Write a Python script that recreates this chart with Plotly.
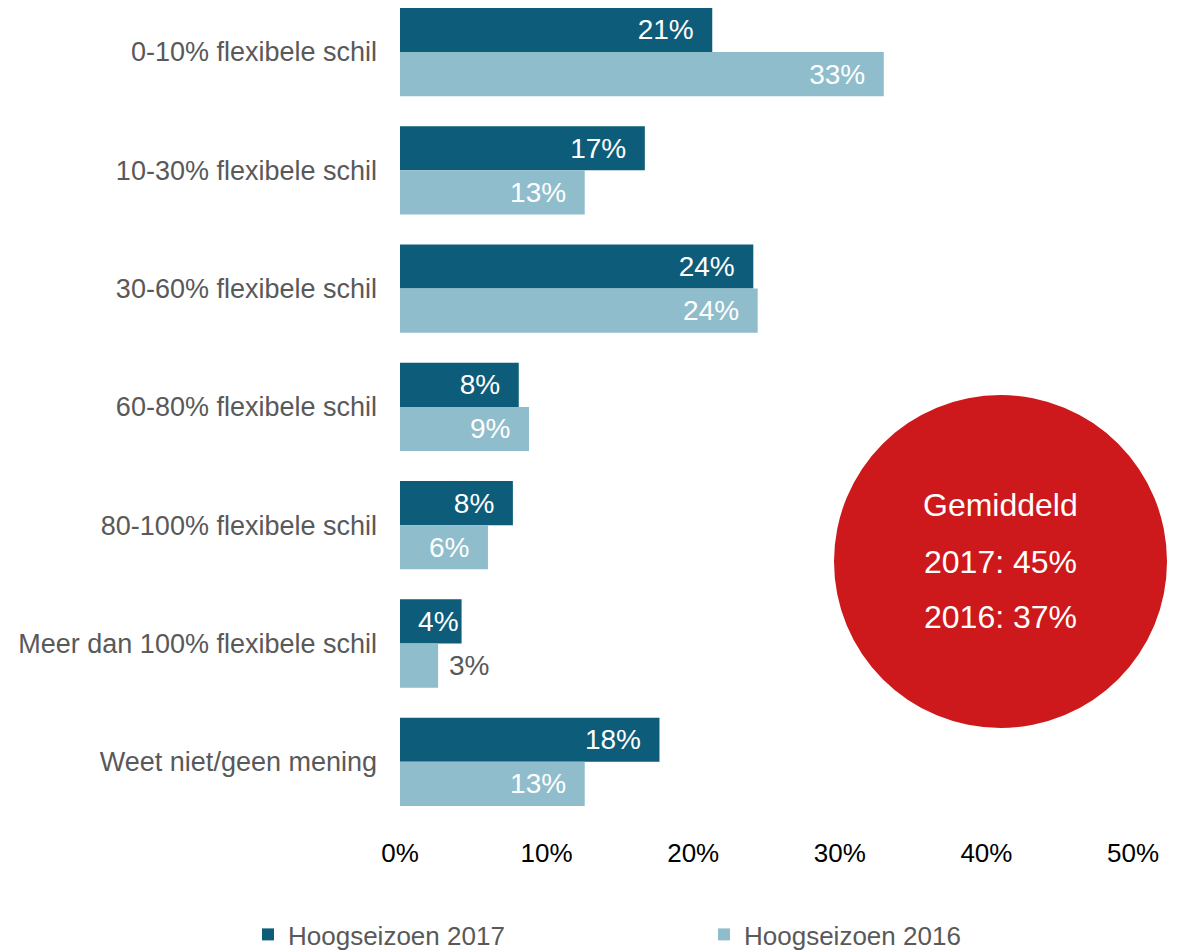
import plotly.graph_objects as go

categories = [
    "0-10% flexibele schil",
    "10-30% flexibele schil",
    "30-60% flexibele schil",
    "60-80% flexibele schil",
    "80-100% flexibele schil",
    "Meer dan 100% flexibele schil",
    "Weet niet/geen mening",
]
values_2017 = [21.3, 16.7, 24.1, 8.1, 7.7, 4.2, 17.7]
values_2016 = [33.0, 12.6, 24.4, 8.8, 6.0, 2.6, 12.6]
labels_2017 = ["21%", "17%", "24%", "8%", "8%", "4%", "18%"]
labels_2016 = ["33%", "13%", "24%", "9%", "6%", "3%", "13%"]
pos_2016 = ["inside", "inside", "inside", "inside", "inside", "outside", "inside"]
x_ticks = [0, 10, 20, 30, 40, 50]
x_ticktext = ["0%", "10%", "20%", "30%", "40%", "50%"]
avg_lines = ["Gemiddeld", "2017: 45%", "2016: 37%"]

DARK = "#0d5c79"
LIGHT = "#8fbdcb"
RED = "#cd191b"
GRAY = "#595959"
NB = "\u00a0"
FONT = "Liberation Sans, Arial, sans-serif"

OFF = 8  # page body offset
W, H = 1185, 950
SCR_L, SCR_R, SCR_T, SCR_B = 400, 1133, 0, 820
L = SCR_L - OFF
T = 0
PW = SCR_R - SCR_L
R = W - L - PW
PH = SCR_B - OFF - T
B = H - T - PH

def px_x(x):
    return (x - OFF - L) / PW

def px_y(y):
    return (T + PH - (y - OFF)) / PH

def label_text(lbl, val, pos):
    if pos == "outside":
        return NB + lbl
    return lbl + (NB * 2 if val >= 5 else "")

fig = go.Figure()
fig.add_trace(go.Bar(
    y=categories, x=values_2017, orientation="h", name="Hoogseizoen 2017",
    marker=dict(color=DARK, line=dict(width=0)),
    text=[label_text(l, v, "inside") for l, v in zip(labels_2017, values_2017)],
    textposition="inside", insidetextanchor="end",
    insidetextfont=dict(color="white", size=28, family=FONT),
    constraintext="none", hoverinfo="skip",
))
fig.add_trace(go.Bar(
    y=categories, x=values_2016, orientation="h", name="Hoogseizoen 2016",
    marker=dict(color=LIGHT, line=dict(width=0)),
    text=[label_text(l, v, p) for l, v, p in zip(labels_2016, values_2016, pos_2016)],
    textposition=pos_2016, insidetextanchor="end",
    insidetextfont=dict(color="white", size=28, family=FONT),
    outsidetextfont=dict(color=GRAY, size=28, family=FONT),
    constraintext="none", cliponaxis=False, hoverinfo="skip",
))

cat_px = 118.3
first_center = 52 - OFF
top_val = (T - first_center) / cat_px
bot_val = (T + PH - first_center) / cat_px

fig.update_layout(
    width=W, height=H,
    margin=dict(l=L, r=R, t=T, b=B, pad=0),
    paper_bgcolor="white", plot_bgcolor="white",
    barmode="group", bargap=0.254, bargroupgap=0,
    font=dict(family=FONT, color=GRAY),
    xaxis=dict(
        range=[0, 50], tickvals=x_ticks, ticktext=x_ticktext,
        showgrid=False, zeroline=False, showline=False, ticks="",
        tickfont=dict(family=FONT, size=26, color="black"),
        ticklabelstandoff=15,
    ),
    yaxis=dict(
        range=[bot_val, top_val], showgrid=False, zeroline=False, showline=False, ticks="",
        tickfont=dict(size=27, color=GRAY, family=FONT), ticklabelstandoff=22,
    ),
    legend=dict(
        orientation="h", x=px_x(248), xanchor="left", y=px_y(935), yanchor="middle",
        font=dict(family=FONT, size=26, color=GRAY),
        entrywidth=411, itemclick=False, itemdoubleclick=False,
    ),
    showlegend=True,
)

fig.add_shape(
    type="circle", xref="paper", yref="paper",
    x0=px_x(834), x1=px_x(1167), y0=px_y(728), y1=px_y(395),
    fillcolor=RED, line=dict(width=0), layer="above",
)
for txt, yy in zip(avg_lines, [505, 562, 617]):
    fig.add_annotation(
        text=txt, xref="paper", yref="paper", x=px_x(1000), y=px_y(yy),
        xanchor="center", yanchor="middle", showarrow=False,
        font=dict(color="white", size=32, family=FONT),
    )

fig.write_html("out.html")
